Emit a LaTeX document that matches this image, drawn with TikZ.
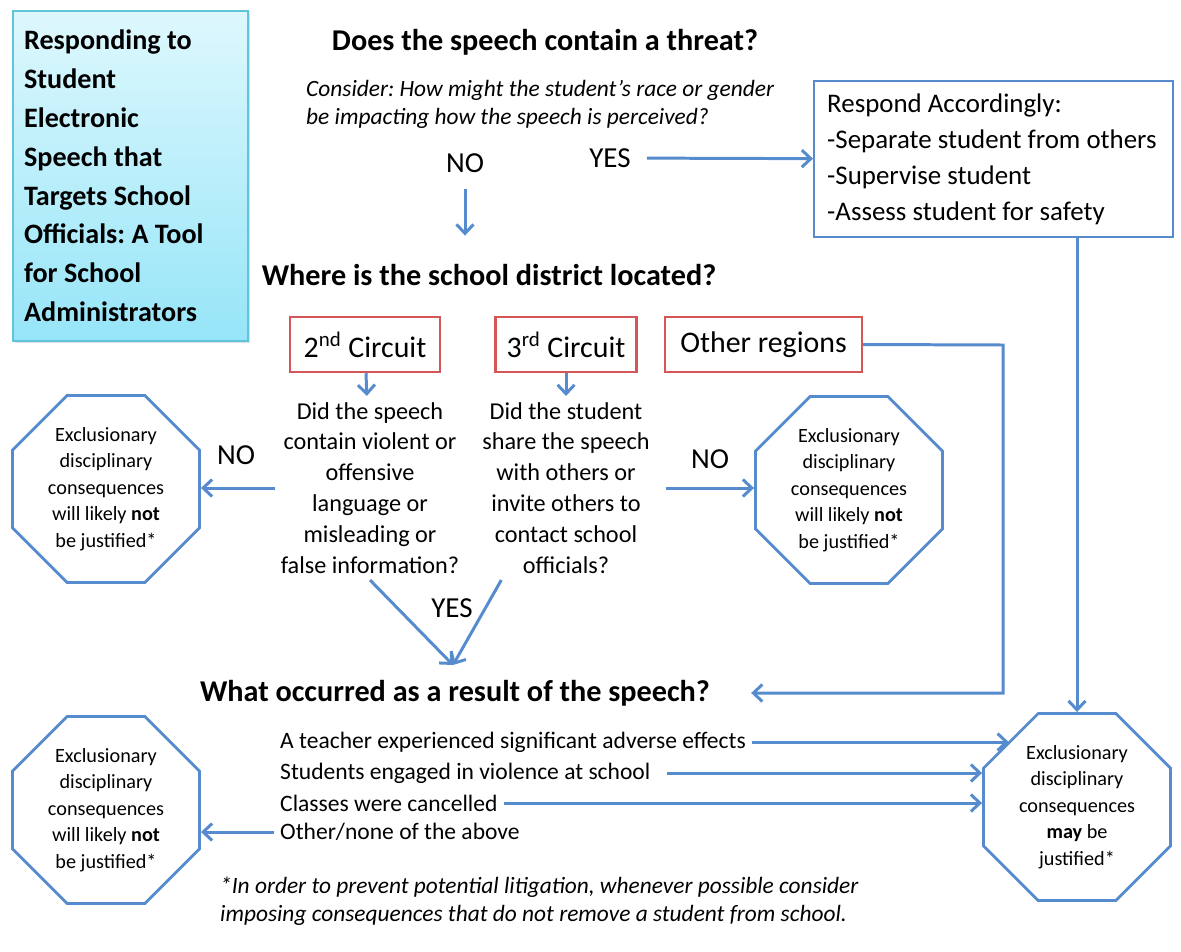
\documentclass[tikz,border=0pt]{standalone}
\usepackage{fontspec}
\setmainfont{Carlito}
\usetikzlibrary{arrows.meta,positioning,calc,shapes.geometric,shadows}
\definecolor{flowblue}{RGB}{86,140,205}
\definecolor{circred}{RGB}{212,86,86}
\definecolor{titleedge}{RGB}{96,196,218}
\definecolor{titletop}{RGB}{222,248,253}
\definecolor{titlebot}{RGB}{150,229,248}
\newcommand{\fsz}[2]{\fontsize{#1}{#2}\selectfont}
\tikzset{
  flow/.style={-{Straight Barb[length=1.8mm,width=3.4mm]}, flowblue, line width=1.7pt},
  heading/.style={font=\fsz{17.2}{20}\bfseries},
  ital/.style={font=\fsz{13.3}{16}\itshape, align=flush left, anchor=west},
  answer/.style={font=\fsz{16.5}{18}},
  titlebox/.style={draw=titleedge, line width=1pt, top color=titletop, bottom color=titlebot,
      drop shadow={opacity=0.25, shadow xshift=1pt, shadow yshift=-1pt},
      anchor=north west, minimum width=4.7cm, minimum height=6.6cm,
      text width=4.25cm, align=flush left, font=\fsz{16}{22.1}\bfseries},
  respondbox/.style={draw=flowblue, line width=1.4pt, anchor=north west, minimum width=7.18cm,
      minimum height=3.12cm, inner xsep=2.6mm, text width=6.66cm, align=flush left,
      font=\fsz{15.3}{20.4}},
  circbox/.style={draw=circred, line width=1.4pt, minimum height=1.1cm, font=\fsz{17}{18}},
  decision/.style={align=center, font=\fsz{13.8}{17.6}},
  octa/.style={regular polygon, regular polygon sides=8, minimum size=4.05cm, draw=flowblue,
      line width=1.6pt, inner sep=0pt, align=center, font=\fsz{11.5}{15}},
  item/.style={anchor=west, font=\fsz{13.4}{14}},
}
\begin{document}
\frenchspacing
\begin{tikzpicture}[x=0.2mm, y=-0.2mm]
  \useasboundingbox (0,0) rectangle (1181,951);
  % title and first question
  \node[titlebox] (title) at (12,10) {Responding to\\Student\\Electronic\\Speech that\\Targets School\\Officials: A Tool\\for School\\Administrators};
  \node[heading] (qThreat) at (545,42) {Does the speech contain a threat?};
  \node[ital] (consider) at (300,104) {Consider: How might the student's race or gender\\be impacting how the speech is perceived?};
  \node[answer] (lblNo1) at (465,163) {NO};
  \node[answer] (lblYes1) at (610,158) {YES};
  \node[respondbox] (respond) at (813,80) {Respond Accordingly:\\-Separate student from others\\-Supervise student\\-Assess student for safety};
  % where
  \node[heading] (qWhere) at (489,275) {Where is the school district located?};
  \node[circbox, minimum width=3cm] (circ2) at (365,344.5) {2\textsuperscript{nd} Circuit};
  \node[circbox, minimum width=2.82cm] (circ3) at (566,344.5) {3\textsuperscript{rd} Circuit};
  \node[circbox, minimum width=3.94cm] (circOther) at (763.5,344.5) {Other regions};
  \node[decision] (q2) at (370,488) {Did the speech\\contain violent or\\offensive\\language or\\misleading or\\false information?};
  \node[decision] (q3) at (566,488) {Did the student\\share the speech\\with others or\\invite others to\\contact school\\officials?};
  \node[octa] (octL1) at (106,489) {Exclusionary\\disciplinary\\consequences\\will likely \textbf{not}\\be justified*};
  \node[octa] (octR1) at (849,490) {Exclusionary\\disciplinary\\consequences\\will likely \textbf{not}\\be justified*};
  \node[answer] (lblNo2) at (236,455) {NO};
  \node[answer] (lblNo3) at (710,459) {NO};
  \node[answer] (lblYes2) at (452,608) {YES};
  % result
  \node[heading] (qResult) at (455,693) {What occurred as a result of the speech?};
  \coordinate (yesTip) at (453,665);
  \coordinate (otherX) at (1003,345);
  \node[item] (itemA) at (274,742) {A teacher experienced significant adverse effects};
  \node[item] (itemB) at (274,773) {Students engaged in violence at school};
  \node[item] (itemC) at (274,803) {Classes were cancelled};
  \node[item] (itemD) at (274,832) {Other/none of the above};
  \node[octa] (octL2) at (106,810) {Exclusionary\\disciplinary\\consequences\\will likely \textbf{not}\\be justified*};
  \node[octa] (octMay) at (1077,807) {Exclusionary\\disciplinary\\consequences\\\textbf{may} be\\justified*};
  \node[ital] (note) at (214,901) {*In order to prevent potential litigation, whenever possible consider\\imposing consequences that do not remove a student from school.};
  % connectors
  \draw[flow, shorten <=2mm] (lblYes1) -- (respond);
  \draw[flow, shorten <=2mm, shorten >=4.5mm] (lblNo1.south) -- (lblNo1.south |- qWhere.north);
  \draw[flow] (octMay.north |- respond.south) -- (octMay.north);
  \draw[flow] (circ2) -- (q2);
  \draw[flow] (circ3) -- (q3);
  \draw[flow] (q2.west) -- (q2.west -| octL1.east);
  \draw[flow, shorten <=2mm] (q3.east) -- (q3.east -| octR1.west);
  \draw[flow] (q2.south) -- (yesTip);
  \draw[flow] ($(q3.south west)!0.14!(q3.south east)$) -- (yesTip);
  \draw[flow, shorten >=7mm] (circOther.east) -- (otherX) |- (qResult.east);
  \draw[flow] (itemA.east) -- (itemA.east -| octMay.136);
  \draw[flow, shorten <=2mm] (itemB.east) -- (itemB.east -| octMay.west);
  \draw[flow] (itemC.east) -- (itemC.east -| octMay.west);
  \draw[flow] (itemD.west) -- (itemD.west -| octL2.east);
\end{tikzpicture}
\end{document}
